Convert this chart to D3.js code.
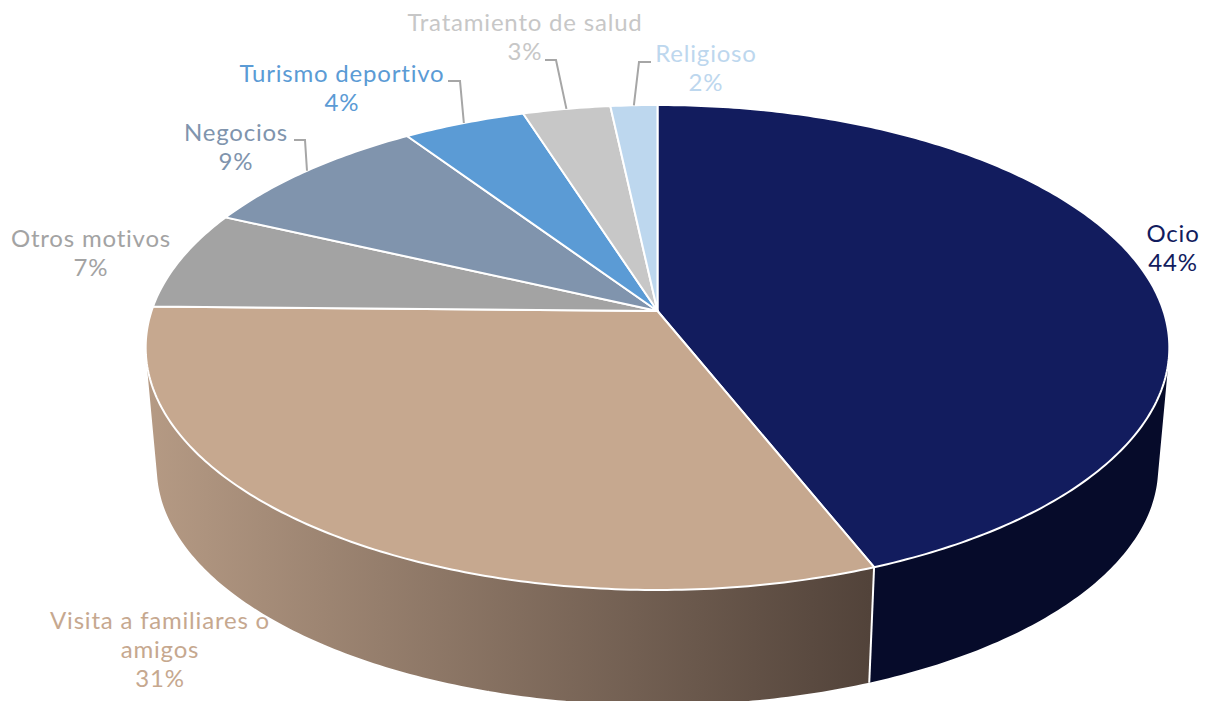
<!DOCTYPE html>
<html>

<head>
  <title>Motivos de viaje</title>
  <style>
    html, body {
      margin: 0;
      background: #ffffff;
    }

    .label text {
      font-family: Lato, sans-serif;
      font-size: 24px;
      letter-spacing: 0.8px;
      text-anchor: middle;
    }

    .leader {
      fill: none;
      stroke: #a6a6a6;
      stroke-width: 2;
    }
  </style>
</head>

<body>
  <svg id="pie" width="1206" height="701"></svg>
  <script src="https://d3js.org/d3.v7.min.js"></script>
  <script>
    // values, labels round them
    const categories = ["Ocio", "Visita a familiares o amigos", "Otros motivos", "Negocios", "Turismo deportivo", "Tratamiento de salud", "Religioso"];
    const values = [44.0, 31.3, 6.6, 8.7, 4.49, 3.2, 1.71];
    const colors = ["#121c5e", "#c6a88f", "#a3a3a3", "#8094ad", "#5b9bd5", "#c7c7c7", "#bdd7ee"];

    // label placement, same order as categories
    const labelLines = [["Ocio"], ["Visita a familiares o", "amigos"], ["Otros motivos"], ["Negocios"], ["Turismo deportivo"], ["Tratamiento de salud"], ["Religioso"]];
    const labelX = [1173, 160, 91, 236, 342, 525, 706];
    const labelY = [242, 629, 247, 141, 82, 31, 62];
    // elbow of the leader lines: start, corner. null = no leader
    const leaders = [null, null, null, [[294, 140], [305, 140]], [[448, 81], [460, 81]], [[545, 60], [556, 60]], [[651, 62], [639, 62]]];

    // perspective view of a flat disc, top face and bottom face of the pie
    const topFace = { cx: 657.5, y0: 311, bx: 506, by: 237, k: 0.1505 };
    const bottomFace = { cx: 657.5, y0: 432, bx: 495, by: 232, k: 0.15 };

    function project(face, angle) {
      const u = Math.sin(angle);
      const v = -Math.cos(angle);
      const w = 1 - face.k * v;
      return [face.cx + face.bx * u / w, face.y0 + face.by * v / w];
    }

    function rim(face, a0, a1) {
      const n = Math.max(2, Math.ceil(Math.abs(a1 - a0) * 80));
      return d3.range(n + 1).map(i => project(face, a0 + (a1 - a0) * i / n));
    }

    const line = d3.line();
    const svg = d3.select("#pie");

    const slices = d3.pie().sort(null).value(d => d)(values);

    // gradient for the tan side wall
    const grad = svg.append("defs").append("linearGradient")
      .attr("id", "wallTan")
      .attr("gradientUnits", "userSpaceOnUse")
      .attr("x1", 148).attr("x2", 870).attr("y1", 0).attr("y2", 0);
    grad.append("stop").attr("offset", 0).attr("stop-color", "#b59a84");
    grad.append("stop").attr("offset", 1).attr("stop-color", "#52433a");

    // side walls, only the front slices show. All quads go in one path with
    // the same winding, so they add up to the silhouette without seams
    const walls = [
      { a0: Math.PI * 0.5, a1: slices[0].endAngle, fill: "#060b2a" },
      { a0: slices[1].startAngle, a1: Math.PI * 1.5, fill: "url(#wallTan)" }
    ];
    walls.forEach(w => {
      const t = rim(topFace, w.a0, w.a1);
      const b = rim(bottomFace, w.a0, w.a1);
      const quads = d3.range(t.length - 1).map(i => {
        const q = [t[i], t[i + 1], b[i + 1], b[i]];
        return line(d3.polygonArea(q) < 0 ? q.reverse() : q) + "Z";
      });
      svg.append("path")
        .attr("d", quads.join(""))
        .attr("fill", w.fill);
    });

    // white edge between the two walls
    svg.append("path")
      .attr("d", line([project(topFace, slices[0].endAngle), project(bottomFace, slices[0].endAngle)]))
      .attr("stroke", "#ffffff")
      .attr("stroke-width", 2);

    // top face
    const apex = [topFace.cx, topFace.y0];
    svg.append("g").selectAll("path")
      .data(slices)
      .enter()
      .append("path")
      .attr("d", d => line([apex].concat(rim(topFace, d.startAngle, d.endAngle))) + "Z")
      .attr("fill", (d, i) => colors[i])
      .attr("stroke", "#ffffff")
      .attr("stroke-width", 2)
      .attr("stroke-linejoin", "round");

    // leader lines end on the rim in the middle of the slice
    svg.append("g").selectAll("path")
      .data(slices.filter((d, i) => leaders[i]))
      .enter()
      .append("path")
      .attr("class", "leader")
      .attr("d", d => line(leaders[d.index].concat([project(topFace, (d.startAngle + d.endAngle) / 2)])));

    // labels
    const labels = svg.append("g").attr("class", "label");
    categories.forEach((name, i) => {
      const lines = labelLines[i].concat([d3.format(".0f")(values[i]) + "%"]);
      labels.append("text")
        .attr("fill", colors[i])
        .selectAll("tspan")
        .data(lines)
        .enter()
        .append("tspan")
        .attr("x", labelX[i])
        .attr("y", (d, j) => labelY[i] + j * 29)
        .text(d => d);
    });
  </script>
</body>

</html>
